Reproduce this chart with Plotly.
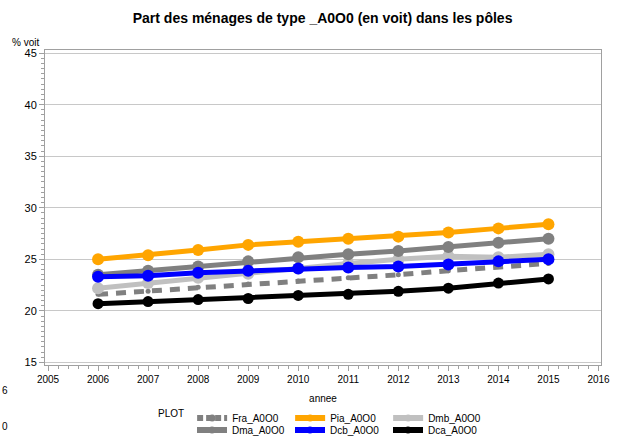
import plotly.graph_objects as go

years = [2006, 2007, 2008, 2009, 2010, 2011, 2012, 2013, 2014, 2015]
fra = [21.6, 21.9, 22.3, 22.6, 22.9, 23.2, 23.5, 23.9, 24.3, 24.6]
pia = [25.0, 25.4, 25.9, 26.4, 26.7, 27.0, 27.2, 27.6, 28.0, 28.4]
dmb = [22.2, 22.7, 23.2, 23.6, 24.1, 24.6, 25.0, 25.3, 25.2, 25.5]
dma = [23.5, 23.9, 24.3, 24.8, 25.2, 25.5, 25.8, 26.2, 26.6, 27.0]
dcb = [23.3, 23.4, 23.7, 23.9, 24.1, 24.2, 24.3, 24.5, 24.8, 25.0]
dca = [20.7, 20.9, 21.1, 21.2, 21.5, 21.6, 21.9, 22.2, 22.7, 23.1]

x_ticks = list(range(2005, 2017))
y_ticks = [15, 20, 25, 30, 35, 40, 45]

# name, values, color, dash, marker size, legend
series = [
    ("Fra_A0O0", fra, "#808080", "10px,8px", 5, "legend"),
    ("Pia_A0O0", pia, "#FFA500", "solid", 12, "legend"),
    ("Dmb_A0O0", dmb, "#C0C0C0", "solid", 12, "legend"),
    ("Dma_A0O0", dma, "#808080", "solid", 12, "legend2"),
    ("Dcb_A0O0", dcb, "#0000FF", "solid", 12, "legend2"),
    ("Dca_A0O0", dca, "#000000", "solid", 11, "legend2"),
]

fig = go.Figure()
for name, vals, color, dash, msize, leg in series:
    fig.add_trace(go.Scatter(
        x=years, y=vals, name=name, mode="lines+markers",
        line=dict(color=color, width=5, dash=dash),
        marker=dict(color=color, size=msize, symbol="circle"),
        legend=leg, legendgroup=name, showlegend=False,
    ))
# legend entries (compact symbols, as in the original legend)
for name, vals, color, dash, msize, leg in series:
    fig.add_trace(go.Scatter(
        x=[None], y=[None], name=name, mode="lines+markers",
        line=dict(color=color, width=6, dash="6px,3px" if dash != "solid" else "solid"),
        marker=dict(color=color, size=7, symbol="circle"),
        legend=leg, legendgroup=name, showlegend=True,
    ))

font = "Liberation Sans, Arial, sans-serif"
leg_common = dict(orientation="h", xref="container", yref="container",
                  xanchor="left", yanchor="middle",
                  entrywidth=53, entrywidthmode="pixels",
                  font=dict(size=10), tracegroupgap=0, itemwidth=30,
                  bgcolor="rgba(0,0,0,0)")
fig.update_layout(
    width=624, height=437,
    margin=dict(l=45, r=23, t=50, b=72, autoexpand=False),
    paper_bgcolor="white", plot_bgcolor="white",
    font=dict(family=font, size=10, color="#000"),
    title=dict(text="<b>Part des ménages de type _A0O0 (en voit) dans les pôles</b>",
               x=0.517, xanchor="center", yref="container", y=0.958, yanchor="middle",
               font=dict(size=14, family=font, color="#000")),
    showlegend=True,
    legend=dict(**leg_common, x=156 / 624, y=1 - 418 / 437,
                title=dict(text="PLOT", side="left", font=dict(size=10))),
    legend2=dict(**leg_common, x=192 / 624, y=1 - 430 / 437),
    xaxis=dict(range=[2004.94, 2016.05], tickvals=x_ticks, ticktext=[str(t) for t in x_ticks],
               showgrid=False, zeroline=False,
               showline=True, linecolor="#A0A0A0", linewidth=1, mirror=True,
               ticks="outside", ticklen=5, tickcolor="#A0A0A0",
               minor=dict(dtick=0.2, ticks="outside", ticklen=3, tickcolor="#A0A0A0"),
               title=dict(text="annee", font=dict(size=10), standoff=22),
               tickfont=dict(size=10)),
    yaxis=dict(range=[14.75, 45.3], tickvals=y_ticks,
               showgrid=True, gridcolor="#C8C8C8", gridwidth=1, zeroline=False,
               showline=True, linecolor="#A0A0A0", linewidth=1, mirror=True,
               ticks="outside", ticklen=5, tickcolor="#A0A0A0",
               minor=dict(dtick=0.5, ticks="outside", ticklen=3, tickcolor="#A0A0A0", showgrid=False),
               tickfont=dict(size=11)),
    annotations=[
        dict(text="% voit", xref="paper", yref="paper", x=(10 - 45) / 556, y=1.0,
             xanchor="left", yanchor="bottom", showarrow=False, font=dict(size=10)),
        dict(text="6", xref="paper", yref="paper", x=(0 - 45) / 556, y=(365 - 390) / 315,
             xanchor="left", yanchor="middle", showarrow=False, font=dict(size=10)),
        dict(text="0", xref="paper", yref="paper", x=(0 - 45) / 556, y=(365 - 426) / 315,
             xanchor="left", yanchor="middle", showarrow=False, font=dict(size=10)),
    ],
)

fig.write_html("out.html", config={"displayModeBar": False},
               post_script="document.body.style.margin='0px';document.body.style.overflow='hidden';")
